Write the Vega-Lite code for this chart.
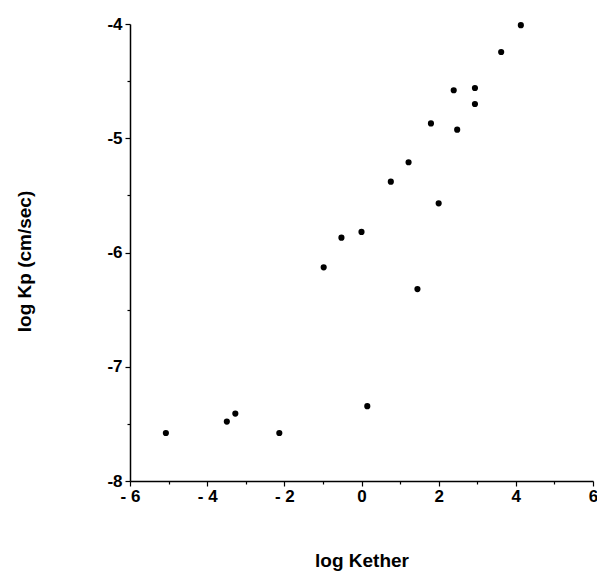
{
  "$schema": "https://vega.github.io/schema/vega-lite/v6.json",
  "width": 463,
  "height": 457,
  "autosize": "none",
  "padding": {"left": 130, "top": 24, "right": 4, "bottom": 90},
  "background": "white",
  "config": {
    "view": {"stroke": null},
    "font": "Liberation Sans",
    "style": {
      "guide-label": {"font": "Liberation Sans", "fontSize": 17, "fontWeight": "bold", "fill": "black"},
      "guide-title": {"font": "Liberation Sans", "fontSize": 19, "fontWeight": "bold", "fill": "black"}
    },
    "axis": {
      "labelFont": "Liberation Sans", "labelFontWeight": "bold", "labelFontSize": 17, "labelColor": "black",
      "titleFont": "Liberation Sans", "titleFontWeight": "bold", "titleFontSize": 19, "titleColor": "black",
      "domainColor": "black", "domainWidth": 1.5, "tickColor": "black", "tickWidth": 1.2, "grid": false
    }
  },
  "data": {"values": [
    {"logKether": 4.13, "logKp": -4.01},
    {"logKether": 3.62, "logKp": -4.245},
    {"logKether": 2.39, "logKp": -4.58},
    {"logKether": 2.94, "logKp": -4.56},
    {"logKether": 2.94, "logKp": -4.70},
    {"logKether": 1.80, "logKp": -4.87},
    {"logKether": 2.48, "logKp": -4.925},
    {"logKether": 1.22, "logKp": -5.21},
    {"logKether": 0.76, "logKp": -5.38},
    {"logKether": 2.0, "logKp": -5.57},
    {"logKether": -0.52, "logKp": -5.87},
    {"logKether": 0.0, "logKp": -5.82},
    {"logKether": -0.98, "logKp": -6.13},
    {"logKether": 1.45, "logKp": -6.32},
    {"logKether": -5.07, "logKp": -7.58},
    {"logKether": -3.49, "logKp": -7.48},
    {"logKether": -3.27, "logKp": -7.41},
    {"logKether": -2.13, "logKp": -7.58},
    {"logKether": 0.15, "logKp": -7.345}
  ]},
  "mark": {"type": "point", "filled": true, "color": "black", "opacity": 1, "size": 38},
  "encoding": {
    "x": {
      "field": "logKether", "type": "quantitative",
      "scale": {"domain": [-6, 6], "nice": false, "zero": false},
      "axis": {
        "title": "log Kether",
        "values": [-6, -5, -4, -3, -2, -1, 0, 1, 2, 3, 4, 5, 6],
        "labelExpr": "datum.value % 2 === 0 ? (datum.value < 0 ? '- ' + abs(datum.value) : '' + datum.value) : ''",
        "tickSize": {"condition": {"test": "datum.value % 2 !== 0", "value": 3}, "value": 5},
        "labelFontSize": 17,
        "labelFontWeight": "bold",
        "labelPadding": 2, "labelFlush": false,
        "titleY": 79, "titleBaseline": "middle"
      }
    },
    "y": {
      "field": "logKp", "type": "quantitative",
      "scale": {"domain": [-8, -4], "nice": false, "zero": false},
      "axis": {
        "title": "log Kp (cm/sec)",
        "values": [-8, -7.5, -7, -6.5, -6, -5.5, -5, -4.5, -4],
        "labelExpr": "datum.value % 1 === 0 ? (datum.value < 0 ? '-' + abs(datum.value) : '' + datum.value) : ''",
        "tickSize": {"condition": {"test": "datum.value % 1 !== 0", "value": 3}, "value": 5},
        "labelFontSize": 17,
        "labelFontWeight": "bold",
        "labelPadding": 3, "labelFlush": false,
        "titleX": -106, "titleY": 237, "titleBaseline": "middle", "titleAngle": -90
      }
    }
  }
}
